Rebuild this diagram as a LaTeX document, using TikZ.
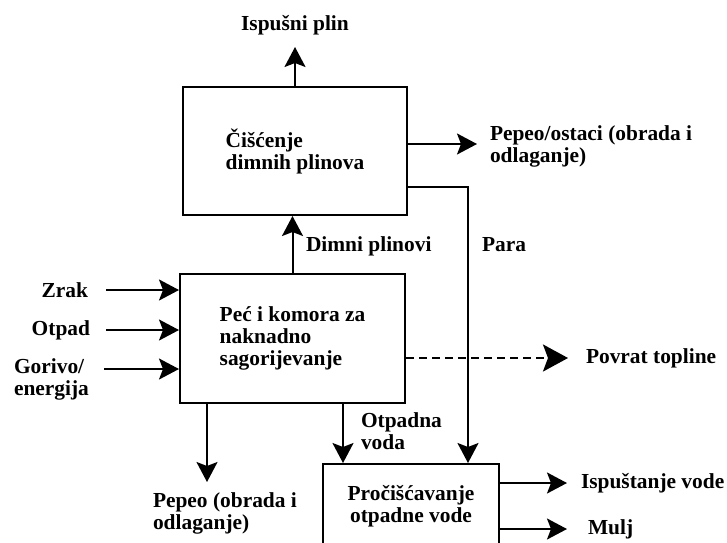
\documentclass[tikz,border=0pt]{standalone}
\usepackage{fontspec}
\setmainfont{Liberation Serif}
\usetikzlibrary{arrows.meta}
\begin{document}
\begin{tikzpicture}
[x=1pt,y=-1pt,line width=2pt,
every node/.style={font=\fontsize{21.4}{22}\selectfont\bfseries,inner sep=0pt},
box/.style={draw,align=left},
arr/.style={-{Stealth[length=20pt,width=21pt,inset=4pt]}},
bigarr/.style={-{Stealth[length=25pt,width=27pt,inset=5pt]}}]
\useasboundingbox (0,0) rectangle (727,542);
\clip (0,0) rectangle (727,542);
\node[box,minimum width=224pt,minimum height=128pt] (clean) at (295,151) {Čišćenje\\dimnih plinova};
\node[box,minimum width=225pt,minimum height=129pt] (furnace) at (292.5,338.5) {Peć i komora za\\naknadno\\sagorijevanje};
\node[box,align=center,minimum width=176pt,minimum height=84pt] (water) at (411,506) {Pročišćavanje\\otpadne vode};
\node[anchor=base] (exhaust) at (295,30) {Ispušni plin};
\node[anchor=north west,align=left] (ashout) at (489,125) {Pepeo/ostaci (obrada i\\odlaganje)};
\node[anchor=west] (para) at (481,245) {Para};
\node[anchor=west] (flue) at (305,246) {Dimni plinovi};
\node[anchor=east] (zrak) at (89,290) {Zrak};
\node[anchor=east] (otpad) at (91,330) {Otpad};
\node[anchor=north west,align=left] (gorivo) at (13,358) {Gorivo/\\energija};
\node[anchor=north west,align=left] (ash) at (152,492) {Pepeo (obrada i\\odlaganje)};
\node[anchor=north west,align=left] (wastew) at (360,412) {Otpadna\\voda};
\node[anchor=west] (heat) at (585,358) {Povrat topline};
\node[anchor=west] (release) at (580,483) {Ispuštanje vode};
\node[anchor=west] (sludge) at (587,529) {Mulj};
\coordinate (exhaustin) at (295,47);
\coordinate (ashoutin) at (477,144);
\coordinate (parabend) at (468,187);
\coordinate (zrakout) at (106,290);
\coordinate (otpadout) at (106,330);
\coordinate (gorivoout) at (104,369);
\coordinate (heatin) at (568,358);
\coordinate (ashin) at (207,482);
\coordinate (wastewx) at (343,0);
\coordinate (releasein) at (567,483);
\coordinate (sludgein) at (567,529);
\draw[arr] (clean.north) -- (exhaustin);
\draw[arr] (clean.east |- ashoutin) -- (ashoutin);
\draw[arr] (clean.east |- parabend) -- (parabend) -- (parabend |- water.north);
\draw[arr] (furnace.north) -- (furnace.north |- clean.south);
\foreach \c in {zrakout,otpadout,gorivoout}
\draw[arr] (\c) -- (furnace.west |- \c);
\draw[bigarr,line width=2.6pt,dash pattern=on 8pt off 5pt] (furnace.east |- heatin) -- (heatin);
\draw[arr] (ashin |- furnace.south) -- (ashin);
\draw[arr] (wastewx |- furnace.south) -- (wastewx |- water.north);
\foreach \c in {releasein,sludgein}
\draw[arr] (water.east |- \c) -- (\c);
\end{tikzpicture}
\end{document}
